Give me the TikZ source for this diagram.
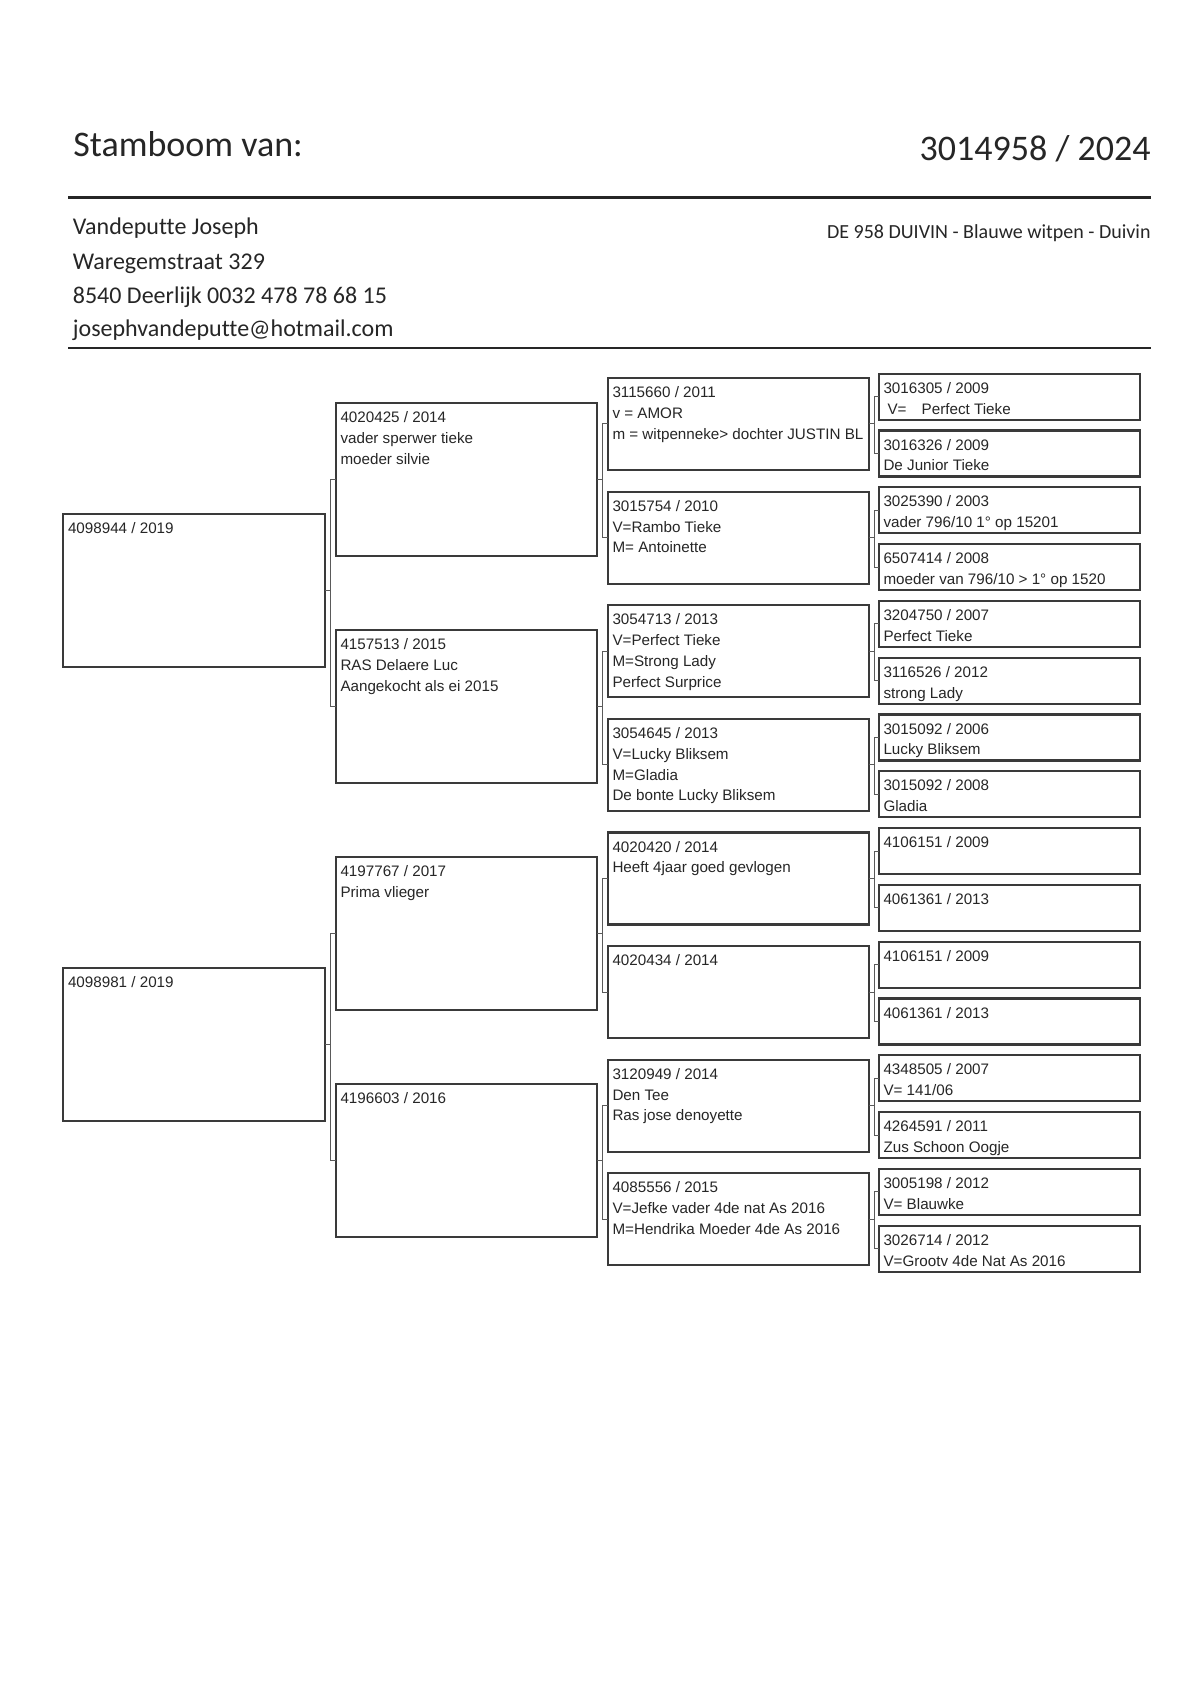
\documentclass[tikz,border=0pt]{standalone}
\usepackage{fontspec}
\setmainfont{Liberation Sans}
\newfontfamily\kopfont[Ligatures=NoCommon]{Carlito}
\definecolor{cInk}{HTML}{262626}
\definecolor{cBox}{HTML}{3A3A3A}
\definecolor{cLink}{HTML}{5A5A5A}
\tikzset{
  kaart/.style ={draw=cBox, line width=1.1pt, rectangle, anchor=north west,
                 outer sep=0pt, inner xsep=2pt, inner ysep=4.3pt, text=cInk,
                 text height=5.5pt, minimum width=130.5pt},
  gen1/.style  ={kaart, minimum width=131pt, text depth=62.4pt},
  gen2/.style  ={kaart, text depth=62.4pt},
  gen3/.style  ={kaart, text depth=31.9pt},
  gen4/.style  ={kaart, text depth=8.9pt},
  tak/.style   ={draw=cLink, line width=0.5pt},
  kop/.style   ={inner sep=0pt, text=cInk},
  streep/.style={line width=1.1pt, draw=cInk},
}
\newcommand{\duif}[1]{%
  \begin{minipage}[t]{126pt}\fontsize{7.6}{10.4}\selectfont\raggedright #1\end{minipage}%
}
\newcommand{\tak}[4]{% ouder, kind 1, kind 2, halve afstand
  \draw[tak] (#1.east) -- ++(#4,0) coordinate (#1-v);
  \draw[tak] (#2.west) -| (#1-v) |- (#3.west);
}

\begin{document}
\begin{tikzpicture}[x=0.5pt, y=-0.5pt]
  \path[use as bounding box, fill=white] (0,0) rectangle (1192,1684);

  % ============================================================
  % KOP
  % ============================================================
  \node[kop, anchor=base west, font={\kopfont\fontsize{18}{22}\selectfont}] (titel) at (73,157) {Stamboom van:};
  \node[kop, anchor=base east, font={\kopfont\fontsize{18}{22}\selectfont}] (ringnr) at (1151,161) {3014958 / 2024};
  \draw[streep] (68,197.5) -- (1151,197.5);

  \node[kop, anchor=base west, font={\kopfont\fontsize{12}{15}\selectfont}] (adres1) at (72.5,235) {Vandeputte Joseph};
  \node[kop, anchor=base west, font={\kopfont\fontsize{12}{15}\selectfont}] (adres2) at (72.5,270) {Waregemstraat 329};
  \node[kop, anchor=base west, font={\kopfont\fontsize{12}{15}\selectfont}] (adres3) at (72.5,303.5) {8540 Deerlijk 0032 478 78 68 15};
  \node[kop, anchor=base west, font={\kopfont\fontsize{12}{15}\selectfont}] (adres4) at (72.5,337) {josephvandeputte@hotmail.com};
  \node[kop, anchor=base east, font={\kopfont\fontsize{10}{12}\selectfont}] (kenmerk) at (1151,239) {DE 958 DUIVIN - Blauwe witpen - Duivin};
  \draw[streep] (68,348) -- (1151,348);

  % ============================================================
  % OUDERS
  % ============================================================
  \node[gen1] (g1-1) at (63,514) {\duif{4098944 / 2019}};
  \node[gen1] (g1-2) at (63,968) {\duif{4098981 / 2019}};

  % --- grootouders ---
  \node[gen2] (g2-1) at (336,403) {\duif{4020425 / 2014\\vader sperwer tieke\\moeder silvie}};
  \node[gen2] (g2-2) at (336,630) {\duif{4157513 / 2015\\RAS Delaere Luc\\Aangekocht als ei 2015}};
  \node[gen2] (g2-3) at (336,857) {\duif{4197767 / 2017\\Prima vlieger}};
  \node[gen2] (g2-4) at (336,1084) {\duif{4196603 / 2016}};

  % --- overgrootouders ---
  \node[gen3] (g3-1) at (608,378) {\duif{3115660 / 2011\\v = AMOR\\m = witpenneke> dochter JUSTIN BL}};
  \node[gen3] (g3-2) at (608,491.6) {\duif{3015754 / 2010\\V=Rambo Tieke\\M= Antoinette}};
  \node[gen3] (g3-3) at (608,605.2) {\duif{3054713 / 2013\\V=Perfect Tieke\\M=Strong Lady\\Perfect Surprice}};
  \node[gen3] (g3-4) at (608,718.8) {\duif{3054645 / 2013\\V=Lucky Bliksem\\M=Gladia\\De bonte Lucky Bliksem}};
  \node[gen3] (g3-5) at (608,832.4) {\duif{4020420 / 2014\\Heeft 4jaar goed gevlogen}};
  \node[gen3] (g3-6) at (608,946) {\duif{4020434 / 2014}};
  \node[gen3] (g3-7) at (608,1059.6) {\duif{3120949 / 2014\\Den Tee\\Ras jose denoyette}};
  \node[gen3] (g3-8) at (608,1173.2) {\duif{4085556 / 2015\\V=Jefke vader 4de nat As 2016\\M=Hendrika Moeder 4de As 2016}};

  % --- betovergrootouders ---
  \node[gen4] (g4-1) at (879,373.7) {\duif{3016305 / 2009\\\hspace*{2pt}V=\hspace{1em}Perfect Tieke}};
  \node[gen4] (g4-2) at (879,430.5) {\duif{3016326 / 2009\\De Junior Tieke}};
  \node[gen4] (g4-3) at (879,487.3) {\duif{3025390 / 2003\\vader 796/10 1° op 15201}};
  \node[gen4] (g4-4) at (879,544.1) {\duif{6507414 / 2008\\moeder van 796/10 > 1° op 1520}};
  \node[gen4] (g4-5) at (879,600.9) {\duif{3204750 / 2007\\Perfect Tieke}};
  \node[gen4] (g4-6) at (879,657.7) {\duif{3116526 / 2012\\strong Lady}};
  \node[gen4] (g4-7) at (879,714.5) {\duif{3015092 / 2006\\Lucky Bliksem}};
  \node[gen4] (g4-8) at (879,771.3) {\duif{3015092 / 2008\\Gladia}};
  \node[gen4] (g4-9) at (879,828.1) {\duif{4106151 / 2009}};
  \node[gen4] (g4-10) at (879,884.9) {\duif{4061361 / 2013}};
  \node[gen4] (g4-11) at (879,941.7) {\duif{4106151 / 2009}};
  \node[gen4] (g4-12) at (879,998.5) {\duif{4061361 / 2013}};
  \node[gen4] (g4-13) at (879,1055.3) {\duif{4348505 / 2007\\V= 141/06}};
  \node[gen4] (g4-14) at (879,1112.1) {\duif{4264591 / 2011\\Zus Schoon Oogje}};
  \node[gen4] (g4-15) at (879,1168.9) {\duif{3005198 / 2012\\V= Blauwke}};
  \node[gen4] (g4-16) at (879,1225.7) {\duif{3026714 / 2012\\V=Grootv 4de Nat As 2016}};

  % ============================================================
  % VERBINDINGEN
  % ============================================================
  \tak{g1-1}{g2-1}{g2-2}{5.5}
  \tak{g1-2}{g2-3}{g2-4}{5.5}

  \tak{g2-1}{g3-1}{g3-2}{5.5}
  \tak{g2-2}{g3-3}{g3-4}{5.5}
  \tak{g2-3}{g3-5}{g3-6}{5.5}
  \tak{g2-4}{g3-7}{g3-8}{5.5}

  \tak{g3-1}{g4-1}{g4-2}{5}
  \tak{g3-2}{g4-3}{g4-4}{5}
  \tak{g3-3}{g4-5}{g4-6}{5}
  \tak{g3-4}{g4-7}{g4-8}{5}
  \tak{g3-5}{g4-9}{g4-10}{5}
  \tak{g3-6}{g4-11}{g4-12}{5}
  \tak{g3-7}{g4-13}{g4-14}{5}
  \tak{g3-8}{g4-15}{g4-16}{5}

\end{tikzpicture}
\end{document}
